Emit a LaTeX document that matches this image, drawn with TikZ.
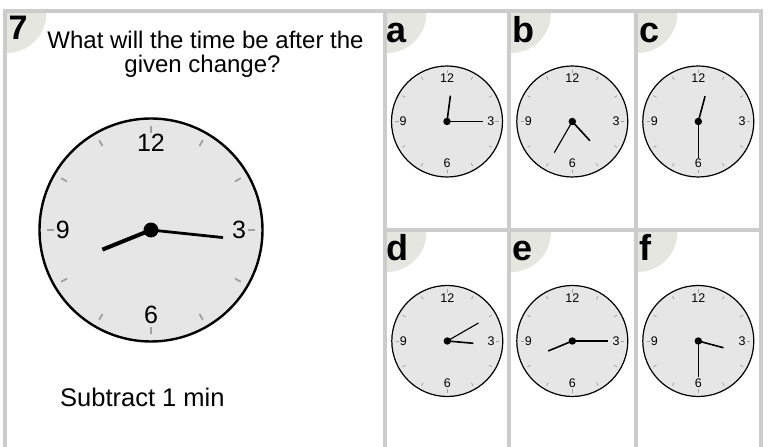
\documentclass[tikz,border=0pt]{standalone}
\usepackage{fontspec}
\setmainfont{Liberation Sans}
\definecolor{framec}{HTML}{CCCCCC}
\definecolor{cornerc}{HTML}{E6E6E0}
\definecolor{facec}{HTML}{E6E6E6}
\definecolor{tickc}{HTML}{A0A0A0}
\tikzset{
  frameline/.style={draw=framec, line width=4pt},
  panellabel/.style={anchor=base west, inner sep=0pt, font=\bfseries\fontsize{36}{36}\selectfont},
  plaintext/.style={inner sep=0pt, font=\fontsize{24}{24}\selectfont},
}
% #1 name, #2 x, #3 y, #4 R, #5 hour angle, #6 minute angle, #7 font size, #8 rim width, #9 hand width
\newcommand{\drawclock}[9]{%
\begin{scope}[shift={(#2,#3)}]
  \coordinate (#1) at (0,0);
  \filldraw[fill=facec, draw=black, line width=#8pt] (#1) circle[radius=#4];
  \foreach \a in {0,30,...,330}
    \draw[tickc, line width={0.45*#9pt}] ({\a}:{0.87*#4}) -- ({\a}:{0.93*#4});
  \node[inner sep=0pt, font=\fontsize{#7}{#7}\selectfont] (#1-12) at (90:{0.78*#4}) {12};
  \node[inner sep=0pt, font=\fontsize{#7}{#7}\selectfont] (#1-3) at (0:{0.79*#4}) {3};
  \node[inner sep=0pt, font=\fontsize{#7}{#7}\selectfont] (#1-6) at (270:{0.76*#4}) {6};
  \node[inner sep=0pt, font=\fontsize{#7}{#7}\selectfont] (#1-9) at (180:{0.79*#4}) {9};
  \draw[line width=#9pt] (#1) -- ({90-#5}:{0.47*#4});
  \draw[line width={0.7*#9pt}] (#1) -- ({90-#6}:{0.65*#4});
  \fill (#1) circle[radius={0.067*#4}];
\end{scope}}
\begin{document}
\begin{tikzpicture}[x=1pt, y=1pt]
\useasboundingbox (0,0) rectangle (769,447);
\fill[white] (0,0) rectangle (769,447);
% corner circles
\begin{scope}
  \clip (6.5,0) rectangle (382.5,434);
  \fill[cornerc] (6.5,434) circle[radius=40];
\end{scope}
\foreach \px/\pxr in {386.5/507, 511/633.5, 637.5/759}{
  \begin{scope}
    \clip (\px,219) rectangle (\pxr,434);
    \fill[cornerc] (\px,434) circle[radius=40];
  \end{scope}
  \begin{scope}
    \clip (\px,0) rectangle (\pxr,215);
    \fill[cornerc] (\px,215) circle[radius=40];
  \end{scope}
}
% frame
\draw[frameline] (2.5,436) -- (763,436);
\draw[frameline] (4.5,438) -- (4.5,-5);
\draw[frameline] (384.5,438) -- (384.5,-5);
\draw[frameline] (509,438) -- (509,-5);
\draw[frameline] (635.5,438) -- (635.5,-5);
\draw[frameline] (761,438) -- (761,-5);
\draw[frameline] (384.5,217) -- (761,217);
% labels
\node[panellabel, font=\bfseries\fontsize{34}{34}\selectfont] (l7) at (8.5,407) {7};
\node[panellabel] (la) at (386.5,404) {a};
\node[panellabel] (lb) at (512,404) {b};
\node[panellabel] (lc) at (639,404) {c};
\node[panellabel] (ld) at (386.5,186) {d};
\node[panellabel] (le) at (512,186) {e};
\node[panellabel] (lf) at (639,186) {f};
% question texts
\node[plaintext, anchor=base] (t1) at (205.5,398) {What will the time be after the};
\node[plaintext, anchor=base] (t2) at (202.5,374.5) {given change?};
\node[plaintext, anchor=base west, font=\fontsize{25.5}{25.5}\selectfont] (sub) at (60,40.3) {Subtract 1 min};
% clocks
\drawclock{big}{151}{217}{111.5}{248}{96}{25}{2.4}{4}
\drawclock{ca}{447}{325.5}{55.5}{7.5}{90}{12.5}{1.2}{1.6}
\drawclock{cb}{572.3}{325.5}{55.5}{137.5}{210}{12.5}{1.2}{1.6}
\drawclock{cc}{698.3}{325.5}{55.5}{15}{180}{12.5}{1.2}{1.6}
\drawclock{cd}{447.3}{106}{55.5}{95}{60}{12.5}{1.2}{1.6}
\drawclock{ce}{572.3}{106}{55.5}{247.5}{90}{12.5}{1.2}{1.6}
\drawclock{cf}{698.3}{106}{55.5}{105}{180}{12.5}{1.2}{1.6}
\end{tikzpicture}
\end{document}
